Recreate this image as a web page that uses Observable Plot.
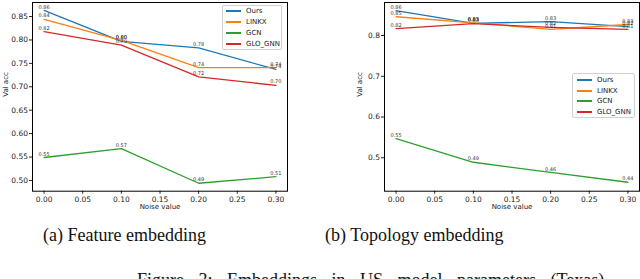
<!DOCTYPE html>
<html><head><meta charset="utf-8">
<script src="https://cdn.jsdelivr.net/npm/d3@7"></script>
<script src="https://cdn.jsdelivr.net/npm/@observablehq/plot@0.6"></script>
<style>
body{margin:0;background:#fff;width:640px;height:279px;overflow:hidden;position:relative;font-family:"DejaVu Sans",sans-serif}
.pl{position:absolute;top:0}
.legend{position:absolute;border:1px solid #d0d0d0;border-radius:2px;background:rgba(255,255,255,0.85);font-size:7px;color:#222;box-sizing:border-box}
.legend .it{position:absolute;left:0;height:8px;line-height:8px;white-space:nowrap}
.legend .sw{position:absolute;top:3px;width:15px;height:1.5px}
.legend .lb{position:absolute;left:23px;top:0}
.cap{position:absolute;font-family:"Liberation Serif","Times New Roman",serif;font-size:18px;color:#111;white-space:nowrap}
</style></head><body>
<div id="a" class="pl" style="left:0"></div>
<div id="b" class="pl" style="left:320px"></div>
<div class="cap" style="left:43px;top:225px">(a) Feature embedding</div>
<div class="cap" style="left:325px;top:225px">(b) Topology embedding</div>
<div class="cap" style="left:137px;top:270px;word-spacing:10px">Figure 3: Embeddings in US model parameters (Texas)</div>
<script>
const noise = [0.00, 0.10, 0.20, 0.30];
const series = ["Ours", "LINKX", "GCN", "GLO_GNN"];
const colors = ["#1f77b4", "#ff7f0e", "#2ca02c", "#d62728"];

// (a) Feature embedding
const featOurs  = [0.863, 0.797, 0.783, 0.737];
const featLinkx = [0.844, 0.799, 0.741, 0.741];
const featGcn   = [0.549, 0.568, 0.494, 0.508];
const featGlo   = [0.818, 0.789, 0.721, 0.703];

// (b) Topology embedding
const topoOurs  = [0.861, 0.830, 0.834, 0.822];
const topoLinkx = [0.846, 0.831, 0.815, 0.827];
const topoGcn   = [0.547, 0.489, 0.464, 0.440];
const topoGlo   = [0.817, 0.829, 0.820, 0.815];

const xTicks = [0.00, 0.05, 0.10, 0.15, 0.20, 0.25, 0.30];
const featYTicks = [0.50, 0.55, 0.60, 0.65, 0.70, 0.75, 0.80, 0.85];
const topoYTicks = [0.5, 0.6, 0.7, 0.8];

function tidy(arrs) {
  const rows = [];
  arrs.forEach((vals, i) => vals.forEach((v, j) => rows.push({series: series[i], noise: noise[j], value: v})));
  return rows;
}

function chart(data, yDomain, yTicks, yFmt, ml, mr, ylabDx) {
  return Plot.plot({
    width: 320, height: 215,
    marginLeft: ml, marginRight: mr, marginTop: 2, marginBottom: 24.3,
    style: {fontFamily: "DejaVu Sans", fontSize: "7.5px", color: "#222", background: "white"},
    x: {domain: [-0.015, 0.315]},
    y: {domain: yDomain},
    color: {domain: series, range: colors},
    marks: [
      Plot.axisX({ticks: xTicks, tickFormat: d3.format(".2f"), tickSize: 3, tickPadding: 2, label: null}),
      Plot.axisY({ticks: yTicks, tickFormat: d3.format(yFmt), tickSize: 3, tickPadding: 1.5, label: null}),
      Plot.line(data, {x: "noise", y: "value", z: "series", stroke: "series", strokeWidth: 1.3}),
      Plot.text(data, {x: "noise", y: "value", text: d => d.value.toFixed(2), dy: -3.5, fontSize: 5, fill: "#333", textAnchor: "middle"}),
      Plot.text(["Noise value"], {text: d => d, frameAnchor: "bottom", dy: 17.5, fontSize: 7, fill: "#222"}),
      Plot.text(["Val acc"], {text: d => d, frameAnchor: "left", dx: ylabDx, rotate: -90, fontSize: 7, fill: "#222"}),
      Plot.frame({stroke: "#000", strokeWidth: 1})
    ]
  });
}

document.getElementById("a").append(
  chart(tidy([featOurs, featLinkx, featGcn, featGlo]), [0.477, 0.880], featYTicks, ".2f", 32, 33, -27));
document.getElementById("b").append(
  chart(tidy([topoOurs, topoLinkx, topoGcn, topoGlo]), [0.418, 0.881], topoYTicks, ".1f", 64, 1, -25));

function legend(left, top, w, h, swLeft, rowTops) {
  const el = document.createElement("div");
  el.className = "legend";
  Object.assign(el.style, {left: left + "px", top: top + "px", width: w + "px", height: h + "px"});
  series.forEach((s, i) => {
    const it = document.createElement("div");
    it.className = "it";
    it.style.top = rowTops[i] + "px";
    it.innerHTML = `<span class="sw" style="left:${swLeft}px;background:${colors[i]}"></span><span class="lb" style="left:${swLeft + 20}px">${s}</span>`;
    el.append(it);
  });
  document.body.append(el);
}
legend(222, 5, 60, 45, 3, [1, 12, 23, 34]);
legend(572, 73, 63, 45, 4, [2, 13, 23, 34]);
</script>
</body></html>
